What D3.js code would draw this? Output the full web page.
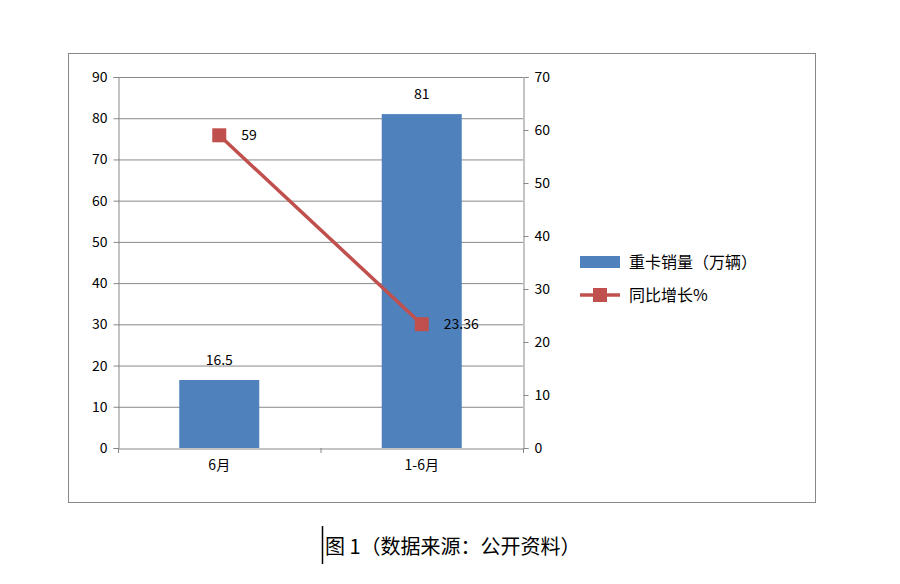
<!DOCTYPE html>
<html><head><meta charset="utf-8">
<script src="https://cdn.jsdelivr.net/npm/d3@7"></script>
<style>body{margin:0;background:#fff}text{font-family:"Noto Sans CJK SC","Noto Sans",sans-serif}</style>
</head><body><svg id="c" width="900" height="584"></svg>
<script>
const categories = ["6月","1-6月"];
const sales = [16.5, 81];
const growth = [59, 23.36];
const leftTicks = [0,10,20,30,40,50,60,70,80,90];
const rightTicks = [0,10,20,30,40,50,60,70];
const seriesNames = ["重卡销量（万辆）","同比增长%"];
const caption = "图 1（数据来源：公开资料）";

const svg = d3.select("#c");
svg.append("rect").attr("x",68.5).attr("y",53.5).attr("width",747).attr("height",449)
  .attr("fill","#fff").attr("stroke","#888");
const L=118,R=523,T=77,B=448;
const x = d3.scaleBand().domain(categories).range([L,R]);
const yL = d3.scaleLinear().domain([0,90]).range([B,T]);
const yR = d3.scaleLinear().domain([0,70]).range([B,T]);

svg.append("g").selectAll("line").data(leftTicks.slice(1)).join("line")
  .attr("x1",L).attr("x2",R).attr("y1",d=>yL(d)+0.5).attr("y2",d=>yL(d)+0.5).attr("stroke","#888");

const ax = svg.append("g").attr("transform",`translate(${L+0.5},0)`)
  .call(d3.axisLeft(yL).tickValues(leftTicks).tickSize(5).tickPadding(6));
const ar = svg.append("g").attr("transform",`translate(${R+0.5},0)`)
  .call(d3.axisRight(yR).tickValues(rightTicks).tickSize(5).tickPadding(6));
const xa = svg.append("g").attr("transform",`translate(0,${B+0.5})`)
  .call(d3.axisBottom(x).tickSize(0).tickPadding(12));
[ax,ar,xa].forEach(g=>{g.selectAll("path,line").attr("stroke","#888");g.selectAll("text").attr("font-size",14).attr("fill","#000")});
svg.selectAll(".xt").data([L,(L+R)/2,R]).join("line").attr("x1",d=>d+0.5).attr("x2",d=>d+0.5)
  .attr("y1",B).attr("y2",B+5).attr("stroke","#888");

const bw=80;
svg.selectAll(".bar").data(sales).join("rect")
  .attr("x",(d,i)=>x(categories[i])+x.bandwidth()/2-bw/2).attr("width",bw)
  .attr("y",d=>yL(d)).attr("height",d=>B-yL(d)).attr("fill","#4f81bd");
svg.selectAll(".bl").data(sales).join("text")
  .attr("x",(d,i)=>x(categories[i])+x.bandwidth()/2).attr("y",d=>yL(d)-15)
  .attr("text-anchor","middle").attr("font-size",14).text(d=>d);

const cx=(i)=>x(categories[i])+x.bandwidth()/2;
svg.append("path").attr("d",d3.line().x((d,i)=>cx(i)).y(d=>yR(d))(growth))
  .attr("fill","none").attr("stroke","#c0504d").attr("stroke-width",3.5);
svg.selectAll(".pm").data(growth).join("rect")
  .attr("x",(d,i)=>cx(i)-7).attr("y",d=>yR(d)-7).attr("width",14).attr("height",14).attr("fill","#c0504d");
svg.selectAll(".pl").data(growth).join("text")
  .attr("x",(d,i)=>cx(i)+22).attr("y",d=>yR(d)+5).attr("font-size",14).text(d=>d);

svg.append("rect").attr("x",580).attr("y",256).attr("width",40).attr("height",12).attr("fill","#4f81bd");
svg.append("text").attr("x",629).attr("y",268).attr("font-size",16).text(seriesNames[0]);
svg.append("line").attr("x1",580).attr("x2",620).attr("y1",295).attr("y2",295).attr("stroke","#c0504d").attr("stroke-width",3.5);
svg.append("rect").attr("x",593).attr("y",288).attr("width",14).attr("height",14).attr("fill","#c0504d");
svg.append("text").attr("x",629).attr("y",301).attr("font-size",16).text(seriesNames[1]);

svg.append("line").attr("x1",322.5).attr("x2",322.5).attr("y1",526).attr("y2",564).attr("stroke","#000").attr("stroke-width",1.5);
svg.append("text").attr("x",325).attr("y",554).attr("font-size",20).text(caption);
</script></body></html>
